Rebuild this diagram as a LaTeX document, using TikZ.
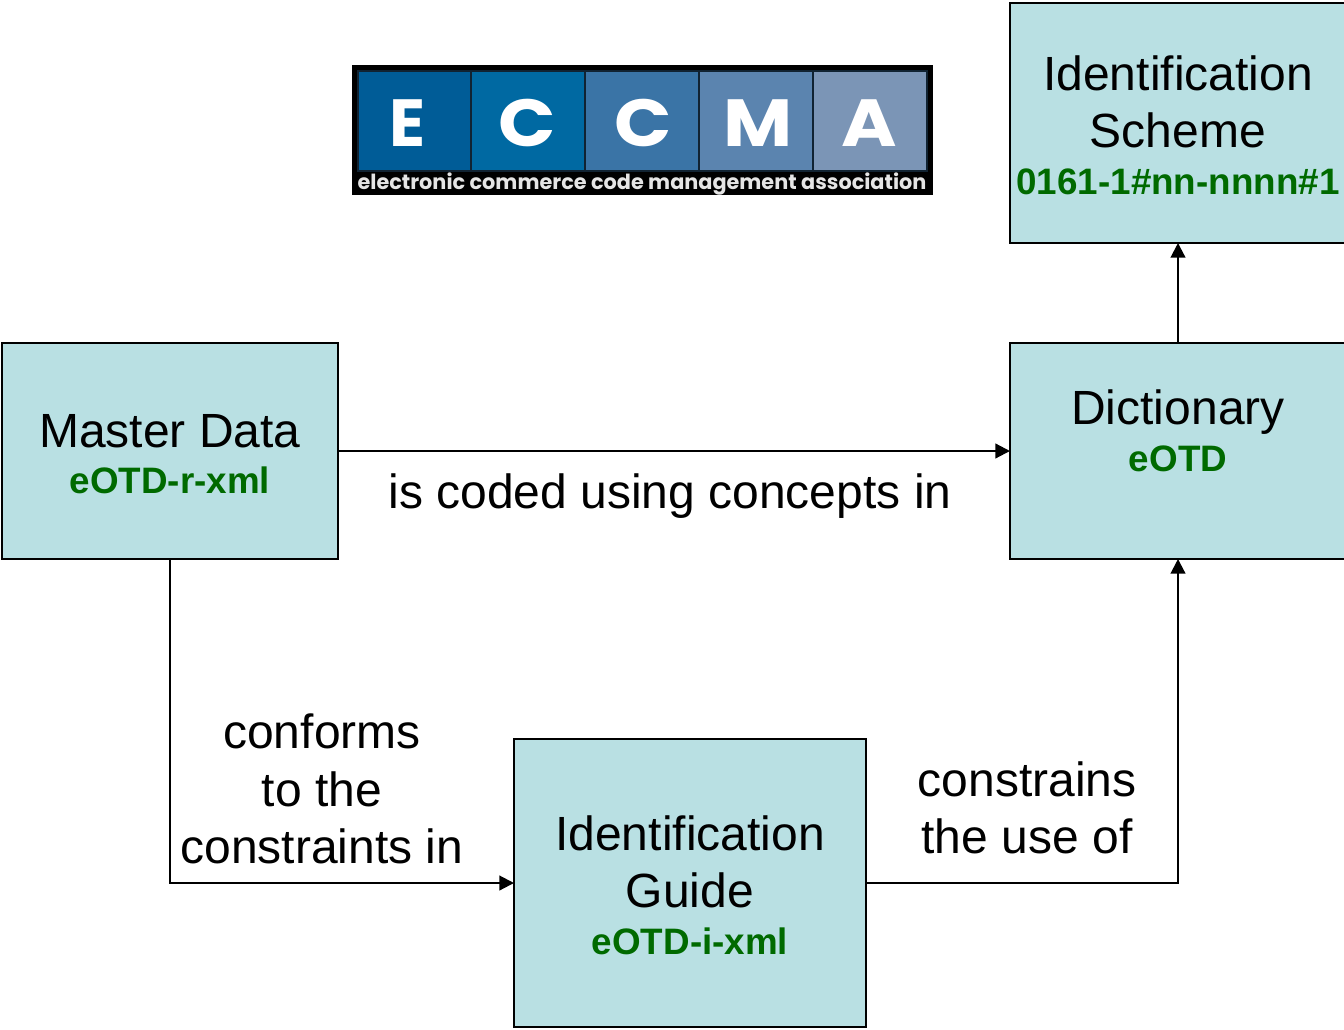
\documentclass[tikz,border=0pt]{standalone}
\usepackage{fontspec}
\setmainfont{Liberation Sans}
\newfontfamily\logofont{Poppins}
\usetikzlibrary{arrows.meta}
\definecolor{boxfill}{HTML}{B9E0E3}
\definecolor{codegreen}{HTML}{006A00}
\definecolor{cellA}{HTML}{005C97}
\definecolor{cellB}{HTML}{0069A2}
\definecolor{cellC}{HTML}{3A74A6}
\definecolor{cellD}{HTML}{5B84AF}
\definecolor{cellE}{HTML}{7B95B6}
% #1 = extra depth claimed below the last line, which moves the text of its box up by half of it
\newcommand{\codetxt}[2]{\raisebox{0pt}[\height][\dimexpr\depth+#1\relax]{\fontsize{27.6}{32}\selectfont\bfseries\color{codegreen}#2}}
% #1 = extra height claimed above the first line, which moves the text of its box down by half of it
\newcommand{\toppad}[2]{\raisebox{0pt}[\dimexpr\height+#1\relax][\depth]{#2}}
\tikzset{
  px/.style={x=0.75pt,y=-0.75pt},
  boxn/.style={draw=black,line width=1.1pt,fill=boxfill,inner sep=0pt,outer sep=0pt,
    align=center,font=\fontsize{36}{43}\selectfont,anchor=north west},
  lbl/.style={font=\fontsize{36}{43}\selectfont,align=center,inner sep=0pt,anchor=center},
  conn/.style={line width=1.6pt,-{Triangle[length=11pt,width=11pt]}},
  cell/.style={draw=black!70!cellC,line width=0.8pt},
  logoletter/.style={font=\logofont\fontsize{50}{50}\selectfont\bfseries,text=white,inner sep=0pt,anchor=center},
  logowide/.style={logoletter,xscale=1.13},
  logocap/.style={font=\logofont\fontsize{15.6}{16}\selectfont\bfseries,text=white!90!black,inner sep=0pt,anchor=center}
}
\begin{document}
\begin{tikzpicture}[px]
\useasboundingbox (0,0) rectangle (1344,1030);
% boxes
\node[boxn,minimum width=252pt,minimum height=162pt] (master) at (2,343)
  {\toppad{4.5pt}{Master Data}\\[-8pt]\codetxt{0pt}{eOTD-r-xml}};
\node[boxn,minimum width=252pt,minimum height=162pt] (dict) at (1010,343)
  {Dictionary\\[-8pt]\codetxt{30pt}{eOTD}};
\node[boxn,minimum width=252pt,minimum height=180pt] (scheme) at (1010,3)
  {\toppad{3pt}{Identification}\\Scheme\\[-8pt]\codetxt{0pt}{0161-1\#nn-nnnn\#1}};
\node[boxn,minimum width=264pt,minimum height=216pt] (guide) at (514,739)
  {\toppad{3pt}{Identification}\\Guide\\[-8pt]\codetxt{0pt}{eOTD-i-xml}};
% connectors
\draw[conn] (master.east) -- (dict.west);
\draw[conn] (dict.north) -- (scheme.south);
\draw[conn] (master.south) |- (guide.west);
\draw[conn] (guide.east) -| (dict.south);
% labels
\node[lbl] (lcoded) at (670,496) {is coded using concepts in};
\node[lbl] (lconf) at (322,789) {conforms\\to the\\constraints in};
\node[lbl] (lcons) at (1027,808) {constrains\\the use of};
% logo
\fill[black] (352,65) rectangle (933,195);
\fill[cellA,cell] (358,71) rectangle (471,171);
\fill[cellB,cell] (471,71) rectangle (585,171);
\fill[cellC,cell] (585,71) rectangle (699,171);
\fill[cellD,cell] (699,71) rectangle (813,171);
\fill[cellE,cell] (813,71) rectangle (927,171);
\node[logoletter] (lE) at (408,123) {E};
\node[logowide] (lC1) at (527,123) {C};
\node[logowide] (lC2) at (643,123) {C};
\node[logowide] (lM) at (758,123) {M};
\node[logowide] (lA) at (869,123) {A};
\node[logocap] (lcap) at (642,184) {electronic commerce code management association};
\end{tikzpicture}
\end{document}
